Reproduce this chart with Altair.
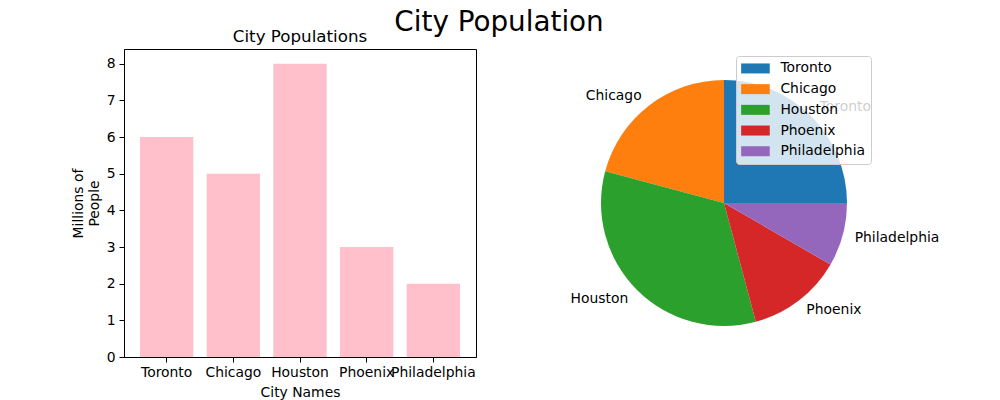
import math
import altair as alt
import pandas as pd

cities = ["Toronto", "Chicago", "Houston", "Phoenix", "Philadelphia"]
populations = [6, 5, 8, 3, 2]
# clockwise order of slices starting at 12 o'clock (matplotlib draws counter-clockwise from 3 o'clock)
clockwise_order = [0, 4, 3, 2, 1]
colors = ["#1f77b4", "#ff7f0e", "#2ca02c", "#d62728", "#9467bd"]

df = pd.DataFrame({"city": cities, "population": populations, "ord": clockwise_order})

FONT = "DejaVu Sans"
FS = 13.9

bar = alt.Chart(df).mark_bar(color="pink").encode(
    x=alt.X("city:N", sort=cities,
            scale=alt.Scale(paddingInner=0.2, paddingOuter=0.24),
            axis=alt.Axis(title="City Names", labelAngle=0, labelOverlap=False, labelBound=False,
                          tickSize=5, labelPadding=3, titlePadding=7)),
    y=alt.Y("population:Q", scale=alt.Scale(domain=[0, 8.4], nice=False, zero=True),
            axis=alt.Axis(title=["Millions of", "People"], values=list(range(9)), grid=False,
                          tickSize=5, labelPadding=4, titlePadding=5)),
).properties(
    width=352, height=308,
    title=alt.TitleParams("City Populations", fontSize=16.7, fontWeight="normal", font=FONT,
                          color="black", baseline="alphabetic", offset=-10, frame="group"),
    view=alt.ViewBackground(stroke="black", strokeWidth=1),
)

theta_scale = alt.Scale(domain=[0, 1], range=[0, 2 * math.pi])

base = alt.Chart(df).transform_joinaggregate(
    total="sum(population)"
).transform_window(
    cum="sum(population)", sort=[alt.SortField("ord", order="ascending")]
).transform_calculate(
    start="(datum.cum - datum.population) / datum.total",
    end="datum.cum / datum.total",
    mid="(datum.cum - datum.population / 2) / datum.total",
)

arcs = base.mark_arc(outerRadius=123, strokeWidth=0).encode(
    theta=alt.Theta("start:Q", scale=theta_scale, stack=None),
    theta2="end:Q",
    color=alt.Color("city:N", scale=alt.Scale(domain=cities, range=colors),
                    legend=alt.Legend(title=None, orient="none", legendX=162, legendY=7,
                                      symbolType="M-2.86,-1H2.86V1H-2.86Z", symbolSize=100,
                                      symbolStrokeWidth=0, symbolOpacity=1, symbolOffset=7,
                                      labelFontSize=FS, labelFont=FONT, labelColor="black",
                                      labelOffset=18, rowPadding=5.7, padding=5.5,
                                      fillColor="rgba(255,255,255,0.8)", strokeColor="#cccccc",
                                      cornerRadius=3)),
)

labels_right = base.transform_filter("datum.mid < 0.5").mark_text(
    radius=135.3, align="left", baseline="middle", fontSize=FS, font=FONT, color="black"
).encode(
    theta=alt.Theta("mid:Q", scale=theta_scale, stack=None),
    text="city:N",
)
labels_left = base.transform_filter("datum.mid >= 0.5").mark_text(
    radius=135.3, align="right", baseline="middle", fontSize=FS, font=FONT, color="black"
).encode(
    theta=alt.Theta("mid:Q", scale=theta_scale, stack=None),
    text="city:N",
)

pie = alt.layer(labels_right, labels_left, arcs).properties(width=300, height=308)

chart = alt.hconcat(bar, pie, spacing=98, bounds="flush").resolve_scale(
    color="independent", theta="independent"
).properties(
    title=alt.TitleParams("City Population", fontSize=27.8, fontWeight="normal", font=FONT,
                          color="black", anchor="middle", baseline="alphabetic",
                          offset=-29.5, dx=-6),
    padding={"left": 62, "top": 0, "right": 5, "bottom": 5},
).configure(font=FONT).configure_view(stroke=None).configure_axis(
    labelFont=FONT, titleFont=FONT, labelFontSize=FS, titleFontSize=FS,
    labelColor="black", titleColor="black", tickColor="black", domainColor="black",
    titleFontWeight="normal",
)

chart.save("out.html", embed_options={"renderer": "svg", "actions": False})
